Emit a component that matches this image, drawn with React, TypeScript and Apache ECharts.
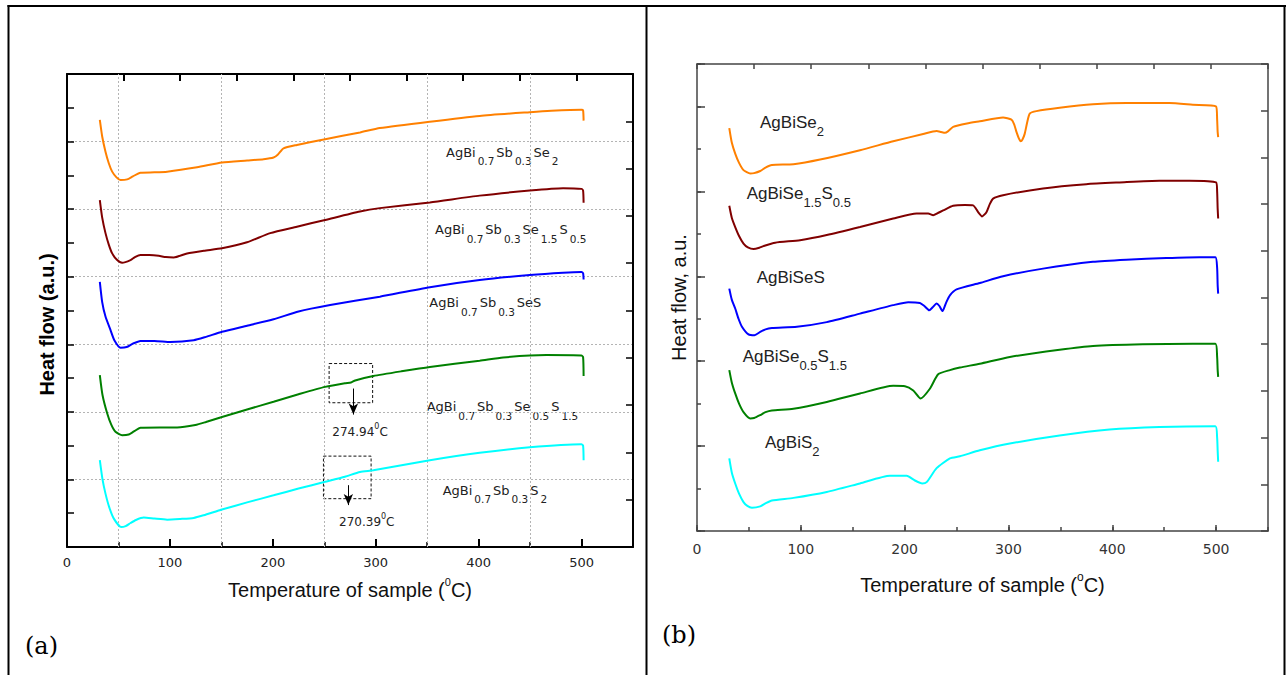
import React, { useEffect, useRef } from "react";
import * as echarts from "echarts";

// ---------- DATA ----------
const COLORS = ["#ff8000", "#800000", "#0000ff", "#008000", "#00ffff"];

// Panel (a): temperature (°C), heat flow (a.u., left-axis units 0..14)
const aSe2: number[][] = [[31.9,12.64],[34.2,12.15],[37.4,11.70],[40.6,11.36],[43.9,11.11],[48.1,10.94],[52,10.86],[58.5,10.88],[64,10.97],[71.4,11.08],[85,11.09],[97.3,11.11],[126.4,11.24],[150.6,11.38],[175,11.44],[191,11.48],[200.7,11.53],[205,11.62],[210.4,11.80],[223.4,11.90],[250.8,12.07],[284.7,12.27],[304,12.40],[352.6,12.59],[401,12.76],[449.7,12.87],[470.7,12.91],[500,12.94],[501.5,12.92],[502,12.62]];
const aSe15S05: number[][] = [[31.9,10.27],[34.2,9.75],[37.4,9.29],[40.6,8.95],[43.9,8.69],[48.5,8.50],[53.6,8.41],[61.7,8.49],[66,8.58],[71.4,8.64],[80,8.64],[89.1,8.62],[96,8.58],[103.7,8.57],[116.7,8.69],[133,8.77],[150.6,8.84],[174.9,9.02],[197.5,9.29],[223.4,9.48],[250.8,9.68],[284.7,9.93],[304,10.03],[352.6,10.20],[401,10.40],[449.7,10.55],[482,10.62],[500,10.60],[501.5,10.55],[502,10.19]];
const aSeS: number[][] = [[31.9,7.85],[34.2,7.25],[37.4,6.82],[42.3,6.42],[46,6.12],[52,5.90],[58,5.92],[64,6.02],[71.4,6.10],[85,6.10],[100.5,6.07],[123.1,6.12],[135,6.22],[150.6,6.37],[175,6.55],[200.7,6.74],[225,6.97],[255.7,7.16],[304,7.41],[352.6,7.69],[401,7.90],[449.7,8.05],[482,8.12],[500,8.14],[501.5,8.10],[502,7.92]];
const aSe05S15: number[][] = [[31.9,5.09],[34.5,4.50],[39.1,3.95],[43,3.62],[47.1,3.41],[53.6,3.31],[60,3.33],[65,3.42],[71.4,3.53],[90,3.54],[107,3.54],[124.7,3.61],[135,3.70],[150.6,3.85],[175,4.07],[200.7,4.30],[225,4.52],[250.8,4.74],[270,4.85],[276,4.87],[280,4.93],[297.7,5.06],[325,5.20],[352.6,5.33],[401,5.51],[423.8,5.61],[465.9,5.68],[499.8,5.67],[501.5,5.62],[502,5.06]];
const aS2: number[][] = [[31.9,2.57],[34.5,2.00],[37.4,1.58],[41,1.18],[45.5,0.84],[52.7,0.59],[57,0.62],[61.7,0.71],[67,0.80],[74.6,0.87],[85,0.84],[97.3,0.81],[110,0.83],[123.1,0.86],[132.8,0.94],[150.6,1.11],[175,1.32],[200.7,1.53],[225,1.73],[250.8,1.93],[270,2.08],[284.7,2.22],[297.7,2.27],[352.6,2.57],[401,2.79],[449.7,2.95],[499.8,3.04],[501.5,3.00],[502,2.57]];

// Panel (b): temperature (°C), heat flow (a.u., left-axis units 0..11)
const bSe2: number[][] = [[31.1,9.49],[33.5,9.15],[36.8,8.89],[40.5,8.67],[44.8,8.50],[51.3,8.42],[55,8.43],[60.9,8.48],[66,8.56],[72.1,8.62],[92.9,8.64],[118.6,8.75],[157,8.97],[189,9.18],[217.9,9.35],[230.8,9.42],[235,9.40],[238.8,9.38],[242,9.42],[246.7,9.52],[260,9.60],[272.4,9.65],[294.8,9.74],[302.9,9.69],[305.5,9.58],[307.7,9.40],[310,9.25],[311.8,9.18],[313.5,9.22],[315.7,9.36],[318,9.62],[320.5,9.83],[326.9,9.89],[349.3,9.97],[381.4,10.05],[413.5,10.08],[455,10.08],[477.5,10.04],[500,10.00],[501,9.70],[501.5,9.40],[502,9.28]];
const bSe15S05: number[][] = [[31.1,7.66],[33.5,7.38],[36.8,7.16],[40.5,6.95],[44.8,6.77],[49,6.68],[54.4,6.64],[60,6.67],[64,6.71],[75.3,6.79],[99.3,6.85],[125,6.97],[157,7.16],[189,7.36],[211.5,7.48],[222.7,7.48],[227.5,7.44],[232,7.49],[237.1,7.55],[246.7,7.66],[258,7.68],[266,7.67],[268.5,7.60],[270.8,7.51],[274.6,7.41],[278.8,7.51],[282,7.70],[285.2,7.83],[294.8,7.91],[333.3,8.07],[375,8.17],[407,8.21],[445.5,8.25],[474.3,8.25],[500,8.21],[501,8.0],[501.5,7.6],[502,7.36]];
const bSeS: number[][] = [[31.1,5.71],[33.5,5.45],[36.8,5.24],[40,5.00],[43.3,4.81],[49.6,4.63],[55.4,4.61],[60.9,4.69],[66,4.75],[72.1,4.78],[96.2,4.81],[125,4.92],[157,5.12],[189,5.32],[203.5,5.39],[214.7,5.37],[219,5.30],[223.7,5.20],[227,5.27],[230.8,5.36],[233.5,5.30],[236.5,5.18],[240,5.38],[243.6,5.55],[250,5.69],[272.4,5.84],[294.8,6.00],[333.3,6.18],[381.4,6.34],[413.5,6.39],[452,6.43],[484,6.45],[499.3,6.45],[501,6.2],[501.5,5.8],[502,5.59]];
const bSe05S15: number[][] = [[31.1,3.79],[33.5,3.50],[36.8,3.24],[40.5,3.00],[44.8,2.80],[51.3,2.65],[55,2.66],[60.9,2.73],[66,2.80],[72.1,2.84],[92.9,2.88],[125,3.04],[157,3.24],[189,3.42],[200.3,3.41],[208.3,3.31],[215.4,3.12],[224.3,3.35],[232.3,3.69],[243.6,3.79],[253.2,3.85],[272.4,3.94],[301.3,4.10],[349.3,4.27],[381.4,4.36],[429.4,4.40],[477.5,4.41],[499.3,4.41],[501,4.1],[501.5,3.8],[502,3.63]];
const bS2: number[][] = [[31.1,1.71],[33.5,1.38],[36.8,1.12],[40.5,0.88],[44.8,0.68],[48.5,0.59],[52.9,0.55],[60.9,0.58],[66,0.65],[72.1,0.72],[92.9,0.78],[125,0.92],[157,1.12],[185.9,1.30],[201.9,1.30],[209.9,1.19],[216.9,1.12],[221.2,1.15],[230.8,1.48],[243.6,1.71],[253.2,1.76],[272.4,1.90],[301.3,2.06],[349.3,2.25],[397.4,2.39],[445.5,2.45],[499.3,2.47],[501,2.2],[501.5,1.9],[502,1.63]];

const aSeries = [aSe2, aSe15S05, aSeS, aSe05S15, aS2];
const bSeries = [bSe2, bSe15S05, bSeS, bSe05S15, bS2];

const aNames = [
  "{m|AgBi}{s|0.7}{m|Sb}{s|0.3}{m|Se}{s|2}",
  "{m|AgBi}{s|0.7}{m|Sb}{s|0.3}{m|Se}{s|1.5}{m|S}{s|0.5}",
  "{m|AgBi}{s|0.7}{m|Sb}{s|0.3}{m|SeS}",
  "{m|AgBi}{s|0.7}{m|Sb}{s|0.3}{m|Se}{s|0.5}{m|S}{s|1.5}",
  "{m|AgBi}{s|0.7}{m|Sb}{s|0.3}{m|S}{s|2}",
];
const bNames = [
  "{m|AgBiSe}{s|2}",
  "{m|AgBiSe}{s|1.5}{m|S}{s|0.5}",
  "{m|AgBiSeS}",
  "{m|AgBiSe}{s|0.5}{m|S}{s|1.5}",
  "{m|AgBiS}{s|2}",
];

// vertical dotted grid lines of panel (a)
const aGridX = [50, 150, 250, 350, 450];
// dotted boxes [x1, y1, x2, y2] and arrows [x, yFrom, x, yTo] in data units of panel (a)
const aBoxes = [[254.7, 5.43, 297, 4.27], [249.2, 2.69, 295.5, 1.43]];
const aArrows = [[278.3, 4.69, 278.3, 3.92], [273.4, 1.83, 273.4, 1.24]];
const aPeaks = [{ t: 284.8, v: 3.46, text: "274.94" }, { t: 291.3, v: 0.79, text: "270.39" }];

// ---------- LAYOUT ----------
// [left x, cap-centre y] of each curve label
const aLabelPos = [[446, 152], [435, 229.5], [429.3, 302.5], [426.7, 406.5], [442.7, 490]];
const bLabelPos = [[760, 122.2], [746.7, 193.3], [756.7, 277.5], [742.7, 356.5], [765, 442]];

function buildOption() {
  const blackA = "#000";
  const grayB = "#444";
  const hidden = { show: false };
  const axisBase = (extra: any) => ({
    type: "value",
    splitLine: { show: false },
    axisLabel: { show: false },
    ...extra,
  });

  const xAxis = [
    axisBase({
      gridIndex: 0, position: "bottom", min: 0, max: 550, interval: 100,
      axisLine: { show: true, onZero: false, lineStyle: { color: blackA, width: 2 } },
      axisTick: { show: true, inside: true, length: 8, lineStyle: { color: blackA, width: 2 } },
      axisLabel: { show: true, showMaxLabel: false, margin: 9, color: "#222", fontFamily: "DejaVu Sans", fontSize: 13 },
      name: "{t|Temperature of sample (}{s|0}{t|C)}",
      nameLocation: "middle", nameGap: 29,
      nameTextStyle: {
        rich: {
          t: { fontFamily: "Liberation Sans", fontSize: 20, color: "#111", lineHeight: 24, verticalAlign: "bottom" },
          s: { fontFamily: "Liberation Sans", fontSize: 11, color: "#111", lineHeight: 12, verticalAlign: "top" },
        },
      },
    }),
    axisBase({
      gridIndex: 0, position: "bottom", min: 0, max: 550, interval: 50,
      axisLine: hidden,
      axisTick: { show: true, inside: true, length: 5, lineStyle: { color: blackA, width: 1.5 } },
    }),
    axisBase({
      gridIndex: 0, position: "top", min: 0, max: 10, interval: 1,
      axisLine: { show: true, onZero: false, lineStyle: { color: blackA, width: 2 } },
      axisTick: { show: true, inside: true, length: 7, lineStyle: { color: blackA, width: 2 } },
    }),
    axisBase({
      gridIndex: 1, position: "bottom", min: 0, max: 550, interval: 100,
      axisLine: { show: true, onZero: false, lineStyle: { color: grayB, width: 1.5 } },
      axisTick: { show: true, inside: true, length: 6, lineStyle: { color: grayB, width: 1.5 } },
      axisLabel: { show: true, showMaxLabel: false, margin: 11, color: "#333", fontFamily: "DejaVu Sans", fontSize: 14 },
      name: "{t|Temperature of sample (}{s|o}{t|C)}",
      nameLocation: "middle", nameGap: 40,
      nameTextStyle: {
        rich: {
          t: { fontFamily: "Liberation Sans", fontSize: 20, color: "#111", lineHeight: 24, verticalAlign: "bottom" },
          s: { fontFamily: "Liberation Sans", fontSize: 12, color: "#111", lineHeight: 12, verticalAlign: "top" },
        },
      },
    }),
    axisBase({
      gridIndex: 1, position: "bottom", min: 0, max: 550, interval: 50,
      axisLine: hidden,
      axisTick: { show: true, inside: true, length: 4, lineStyle: { color: grayB, width: 1.5 } },
    }),
    axisBase({
      gridIndex: 1, position: "top", min: 0, max: 10, interval: 1,
      axisLine: { show: true, onZero: false, lineStyle: { color: grayB, width: 1.5 } },
      axisTick: { show: true, inside: true, length: 5, lineStyle: { color: grayB, width: 1.5 } },
    }),
  ];

  const yAxis = [
    axisBase({
      gridIndex: 0, position: "left", min: 0, max: 14, interval: 2,
      axisLine: { show: true, onZero: false, lineStyle: { color: blackA, width: 2 } },
      axisTick: { show: true, inside: true, length: 7, lineStyle: { color: blackA, width: 1.5 } },
      minorTick: { show: true, splitNumber: 2, length: 7, lineStyle: { color: blackA, width: 1.5 } },
      splitLine: { show: true, lineStyle: { color: "#b4b4b4", width: 1, type: [2, 2] } },
      name: "Heat flow (a.u.)", nameLocation: "middle", nameGap: 10,
      nameTextStyle: { fontFamily: "Liberation Sans", fontWeight: "bold", fontSize: 20, color: "#000", padding: [0, 28, 0, 0] },
    }),
    axisBase({
      gridIndex: 0, position: "right", min: 0, max: 10, interval: 1,
      axisLine: { show: true, onZero: false, lineStyle: { color: blackA, width: 2 } },
      axisTick: { show: true, inside: true, length: 7, lineStyle: { color: blackA, width: 1.5 } },
    }),
    axisBase({
      gridIndex: 1, position: "left", min: 0, max: 11, interval: 1,
      axisLine: { show: true, onZero: false, lineStyle: { color: grayB, width: 1.5 } },
      axisTick: { show: true, inside: true, length: 4, lineStyle: { color: grayB, width: 1.5 } },
      name: "Heat flow, a.u.", nameLocation: "middle", nameGap: 8,
      nameTextStyle: { fontFamily: "Liberation Sans", fontSize: 20, color: "#111" },
    }),
    axisBase({
      gridIndex: 1, position: "left", min: 0, max: 11, interval: 2,
      axisLine: hidden,
      axisTick: { show: true, inside: true, length: 8, lineStyle: { color: grayB, width: 1.5 } },
    }),
    axisBase({
      gridIndex: 1, position: "right", min: 0, max: 10, interval: 1,
      axisLine: { show: true, onZero: false, lineStyle: { color: grayB, width: 1.5 } },
      axisTick: { show: true, inside: true, length: 7, lineStyle: { color: grayB, width: 1.5 } },
    }),
  ];

  const lineSeries = (data: number[][], color: string, xi: number, yi: number) => ({
    type: "line", xAxisIndex: xi, yAxisIndex: yi, data, color,
    showSymbol: false, symbol: "none", silent: true, z: 3,
    smooth: 0.2,
    lineStyle: { color, width: 2 },
  });

  const series: any[] = [
    {
      type: "line", xAxisIndex: 0, yAxisIndex: 0, data: [], silent: true, z: 1,
      markLine: {
        silent: true, z: 1, symbol: ["none", "none"], label: { show: false },
        lineStyle: { color: "#b4b4b4", width: 1, type: [2, 2] },
        data: aGridX.map((x) => ({ xAxis: x })),
      },
    },
    ...aSeries.map((d, i) => lineSeries(d, COLORS[i], 0, 0)),
    ...bSeries.map((d, i) => lineSeries(d, COLORS[i], 3, 2)),
    {
      type: "line", xAxisIndex: 0, yAxisIndex: 0, data: [], silent: true, z: 4,
      markArea: {
        silent: true, label: { show: false },
        itemStyle: { color: "rgba(0,0,0,0)", borderColor: "#111", borderWidth: 1, borderType: [3, 2] },
        data: aBoxes.map((b) => [{ coord: [b[0], b[1]] }, { coord: [b[2], b[3]] }]),
      },
      markLine: {
        silent: true, symbol: ["none", "arrow"], symbolSize: [7, 11], label: { show: false },
        lineStyle: { color: "#000", width: 1, type: "solid" },
        data: aArrows.map((a) => [{ coord: [a[0], a[1]] }, { coord: [a[2], a[3]] }]),
      },
      markPoint: {
        silent: true, symbol: "circle", symbolSize: 0, itemStyle: { color: "rgba(0,0,0,0)" },
        label: {
          show: true, position: "inside",
          rich: {
            n: { fontFamily: "DejaVu Sans", fontSize: 12, color: "#222", lineHeight: 15, verticalAlign: "bottom" },
            s: { fontFamily: "DejaVu Sans", fontSize: 8, color: "#222", lineHeight: 9, verticalAlign: "top" },
          },
        },
        data: aPeaks.map((p) => ({
          coord: [p.t, p.v], value: p.text,
          label: { formatter: "{n|" + p.text + "}{s|0}{n|C}" },
        })),
      },
    },
  ];

  const A_MAIN = 13, B_MAIN = 17;
  const richA = {
    m: { fontFamily: "DejaVu Sans", fontSize: A_MAIN, fill: "#222", lineHeight: 15, verticalAlign: "top", padding: [0, 2, 0, 0] },
    s: { fontFamily: "DejaVu Sans", fontSize: 10.5, fill: "#222", lineHeight: 21, verticalAlign: "bottom", padding: [0, 2, 0, 0] },
  };
  const richB = {
    m: { fontFamily: "Liberation Sans", fontSize: B_MAIN, fill: "#222", lineHeight: 20, verticalAlign: "top" },
    s: { fontFamily: "Liberation Sans", fontSize: 13, fill: "#222", lineHeight: 24, verticalAlign: "bottom" },
  };

  const graphic: any[] = [
    { type: "line", shape: { x1: 7.5, y1: 6, x2: 1286, y2: 6 }, style: { stroke: "#000", lineWidth: 2 } },
    { type: "line", shape: { x1: 8.5, y1: 5, x2: 8.5, y2: 675 }, style: { stroke: "#000", lineWidth: 2 } },
    { type: "line", shape: { x1: 646.5, y1: 5, x2: 646.5, y2: 675 }, style: { stroke: "#000", lineWidth: 2 } },
    { type: "line", shape: { x1: 1284.5, y1: 5, x2: 1284.5, y2: 675 }, style: { stroke: "#000", lineWidth: 2 } },
    { type: "text", x: 25, y: 633.6, style: { text: "(a)", font: '24px "DejaVu Serif"', fill: "#000" } },
    { type: "text", x: 662, y: 623, style: { text: "(b)", font: '24px "DejaVu Serif"', fill: "#000" } },
    ...aNames.map((t, i) => ({
      type: "text", x: aLabelPos[i][0], y: aLabelPos[i][1] - A_MAIN / 2,
      style: { text: t, rich: richA, fill: "#222" },
    })),
    ...bNames.map((t, i) => ({
      type: "text", x: bLabelPos[i][0], y: bLabelPos[i][1] - B_MAIN / 2,
      style: { text: t, rich: richB, fill: "#222" },
    })),
  ];

  return {
    animation: false,
    backgroundColor: "#fff",
    textStyle: { fontFamily: "Liberation Sans" },
    grid: [
      { left: 67, top: 74, width: 566, height: 473 },
      { left: 697, top: 64, width: 571, height: 467 },
    ],
    xAxis, yAxis, series, graphic,
  };
}

export default function App() {
  const ref = useRef<HTMLDivElement>(null);
  useEffect(() => {
    const chart = echarts.init(ref.current as HTMLDivElement, null, { renderer: "svg" });
    chart.setOption(buildOption() as any);
    return () => chart.dispose();
  }, []);
  return (
    <div
      ref={ref}
      style={{ position: "fixed", left: 0, top: 0, width: 1286, height: 675, background: "#fff" }}
    />
  );
}
